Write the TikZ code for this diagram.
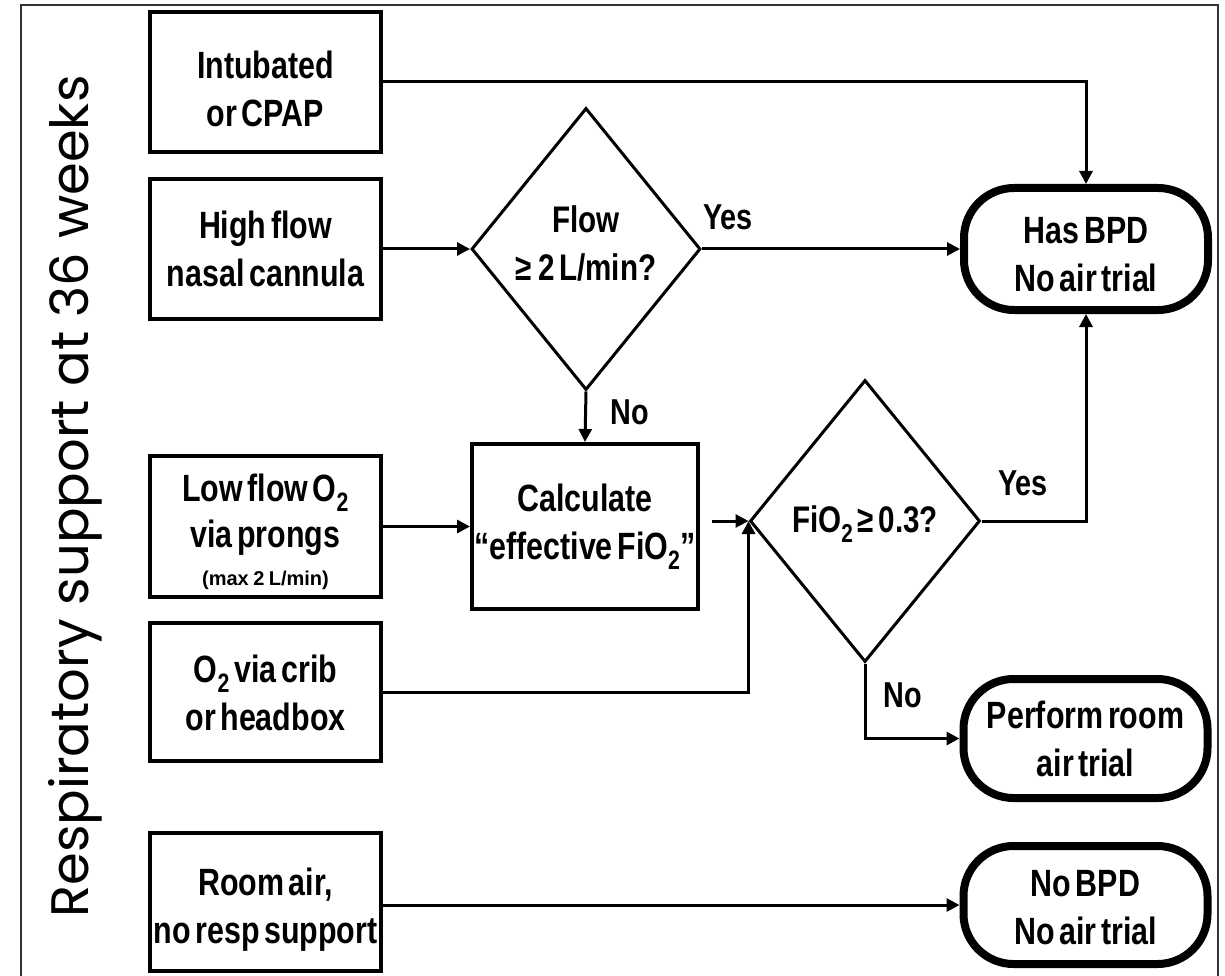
\documentclass[tikz,border=0pt]{standalone}
\usepackage{fontspec}
\setmainfont{Liberation Sans}[FakeStretch=0.8,WordSpace=0.55]
\newfontfamily\sidefont{Poppins}
\newfontfamily\notefont{Liberation Sans}[WordSpace=0.8]
\usetikzlibrary{arrows.meta,shapes.geometric}
\newcommand\subtwo{\textsubscript{2}}
% invisible prop that sets the height of the first text line
\newcommand\up[1]{\rule{0pt}{#1pt}}

\begin{document}
\begin{tikzpicture}[x=1pt,y=-1pt,
  txt/.style={font=\bfseries\fontsize{38}{48}\selectfont, align=center},
  srcbox/.style={txt, draw, line width=4pt, minimum width=231pt, minimum height=140pt, inner sep=0pt},
  decide/.style={draw, diamond, line width=3pt, minimum width=229pt, minimum height=282pt, inner sep=0pt},
  term/.style={txt, draw, line width=8pt, rounded corners=50pt, minimum width=244pt, minimum height=120pt, inner sep=0pt},
  conn/.style={line width=3pt, -{Triangle[length=13pt,width=13pt]}},
  lbl/.style={font=\bfseries\fontsize{36}{42}\selectfont}
]
\useasboundingbox (0,0) rectangle (1225,976);
\clip (0,0) rectangle (1225,976);

% outer frame
\draw[line width=2pt, black!80] (21,5) rectangle (1218,1000);

% side title
\node[rotate=90, anchor=base, font=\sidefont\fontsize{52.7}{60}\selectfont] (side) at (88,496.5) {Respiratory support at 36 weeks};

% respiratory support categories
\node[srcbox] (intub) at (265.5,82) {\up{40.6}Intubated\\or CPAP};
\node[srcbox] (hfnc) at (265.5,249) {High flow\\nasal cannula};
\node[srcbox, minimum height=141pt] (lowflow) at (265.5,526.5) {\up{39}Low flow O\subtwo\\[-2pt]via prongs\\[-10pt]{\notefont\bfseries\fontsize{20}{24}\selectfont(max 2 L/min)}};
\node[srcbox, minimum height=138pt] (crib) at (265.5,692) {\up{30}O\subtwo{} via crib\\or headbox};
\node[srcbox, minimum height=138pt] (room) at (265.5,902) {\up{42}Room air,\\no resp support};

% decisions
\node[decide] (d1) at (586,249) {};
\node[txt, font=\bfseries\fontsize{37}{48}\selectfont] (d1t) at (586,243.5) {Flow\\≥\,2 L/min?};
\node[srcbox, minimum width=226pt, minimum height=165pt] (calc) at (585,526.5) {Calculate\\“effective FiO\subtwo”};
\node[decide, minimum width=230pt] (d2) at (865,521) {};
\node[txt, font=\bfseries\fontsize{37}{48}\selectfont] (d2t) at (865,524) {FiO\subtwo{} ≥ 0.3?};

% outcomes
\node[term, minimum height=122pt] (has) at (1086,249) {\up{36.6}Has BPD\\No air trial};
\node[term, minimum height=119pt] (perf) at (1085.5,738.5) {Perform room\\air trial};
\node[term, minimum height=118pt] (nobpd) at (1085.5,905) {\up{32}No BPD\\No air trial};

% connectors
\coordinate (cgap) at ([xshift=12pt]calc.east);
\draw[conn] (intub.east) -| (has.north);
\draw[conn] (hfnc.east) -- (d1.west);
\draw[conn] (d1.east) -- (has.west);
\draw[conn] (d1.south) -- (calc.north);
\draw[conn] (lowflow.east) -- (calc.west);
\draw[conn] (cgap |- d2.west) -- (d2.west);
\draw[conn] (crib.east) -| (d2.west);
\draw[conn] (d2.east) -| (has.south);
\draw[conn] (d2.south) |- (perf.west);
\draw[conn] (room.east |- nobpd.west) -- (nobpd.west);

% branch labels
\node[lbl] (y1) at (728,217) {Yes};
\node[lbl] (n1) at (630,412) {No};
\node[lbl] (y2) at (1023,483) {Yes};
\node[lbl] (n2) at (903,695) {No};
\end{tikzpicture}
\end{document}
